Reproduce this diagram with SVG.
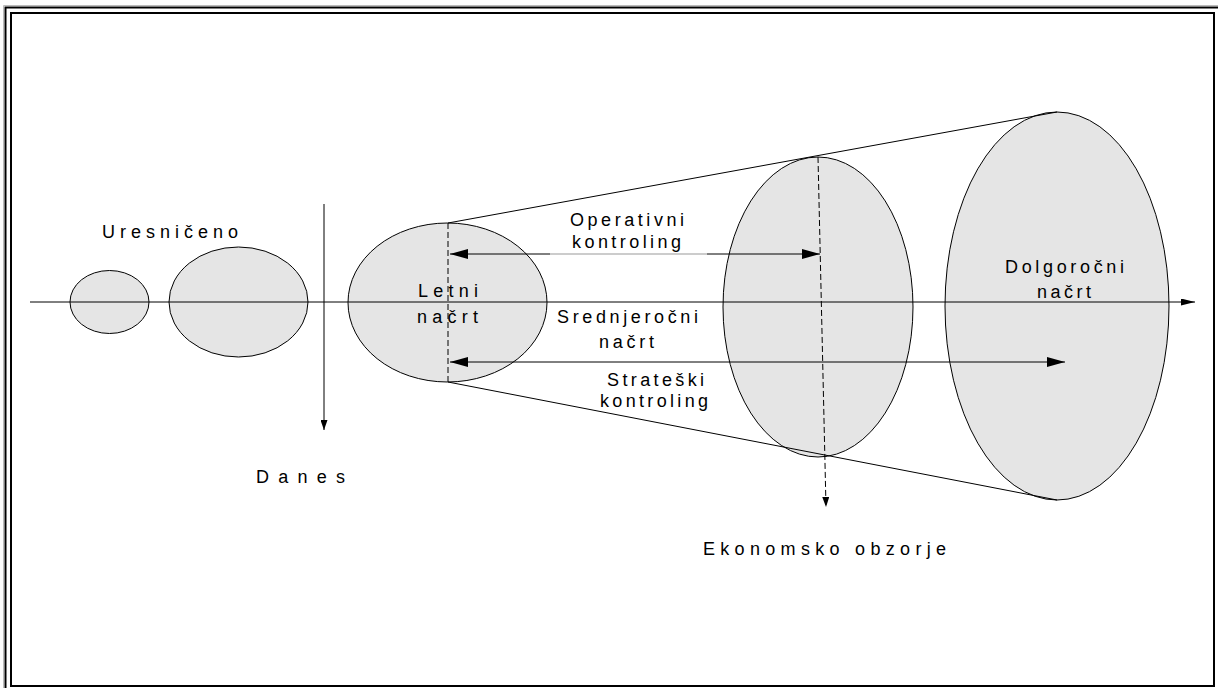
<svg xmlns="http://www.w3.org/2000/svg" width="1218" height="688" viewBox="0 0 1218 688">
  <style>
    .ell { fill: #e5e5e5; stroke: #000; stroke-width: 1; }
    .ln { stroke: #000; stroke-width: 1; fill: none; }
    .dash { stroke: #000; stroke-width: 1; fill: none; stroke-dasharray: 6 3; }
    .lbl { font-family: "Liberation Sans", Arial, sans-serif; font-size: 18px; fill: #000; }
  </style>
  <defs>
    <marker id="big" viewBox="0 0 18 10" refX="18" refY="5" markerWidth="18" markerHeight="10" markerUnits="userSpaceOnUse" orient="auto-start-reverse">
      <path d="M0,0 L18,5 L0,10 z" fill="#000"/>
    </marker>
    <marker id="small" viewBox="0 0 14 7" refX="14" refY="3.5" markerWidth="14" markerHeight="7" markerUnits="userSpaceOnUse" orient="auto">
      <path d="M0,0 L14,3.5 L0,7 z" fill="#000"/>
    </marker>
    <marker id="tiny" viewBox="0 0 10 7" refX="10" refY="3.5" markerWidth="10" markerHeight="7" markerUnits="userSpaceOnUse" orient="auto">
      <path d="M0,0 L10,3.5 L0,7 z" fill="#000"/>
    </marker>
  </defs>
  <rect width="1218" height="688" fill="#fff"/>
  <g id="frame">
    <path d="M3.5,688 V5.5 H1218" fill="none" stroke="#bbb" stroke-width="1"/>
    <path d="M5.5,688 V7.5 H1218" fill="none" stroke="#000" stroke-width="2"/>
    <rect x="11" y="13" width="1203" height="673" fill="none" stroke="#000" stroke-width="2"/>
  </g>
  <g id="past1"><ellipse class="ell" cx="109.5" cy="302" rx="39.5" ry="31.5"/></g>
  <g id="past2"><ellipse class="ell" cx="238.5" cy="302" rx="69.5" ry="55"/></g>
  <g id="annual"><ellipse class="ell" cx="447.5" cy="302.5" rx="99.5" ry="79.5"/></g>
  <g id="midterm"><ellipse class="ell" cx="818" cy="307" rx="95" ry="150"/></g>
  <g id="longterm"><ellipse class="ell" cx="1057" cy="306" rx="112" ry="194"/></g>
  <g id="connectors">
    <line class="ln" x1="448" y1="223" x2="1057" y2="112"/>
    <line class="ln" x1="448" y1="382" x2="1057" y2="500"/>
    <line class="ln" x1="30" y1="302" x2="1195" y2="302" marker-end="url(#small)"/>
    <line class="ln" x1="324" y1="204" x2="324" y2="430" marker-end="url(#tiny)"/>
    <line class="dash" x1="448" y1="223" x2="448" y2="382"/>
    <line class="dash" x1="818" y1="157" x2="826" y2="507" marker-end="url(#tiny)"/>
    <line class="ln" x1="550" y1="254" x2="450" y2="254" marker-end="url(#big)"/>
    <line x1="550" y1="254" x2="707" y2="254" stroke="#999" stroke-width="1"/>
    <line class="ln" x1="707" y1="254" x2="820" y2="254" marker-end="url(#big)"/>
    <line class="ln" x1="450" y1="362" x2="1065" y2="362" marker-start="url(#big)" marker-end="url(#big)"/>
  </g>
  <g id="labels">
    <text class="lbl" x="102" y="238" textLength="136" lengthAdjust="spacing">Uresničeno</text>
    <text class="lbl" x="256" y="483" textLength="89" lengthAdjust="spacing">Danes</text>
    <text class="lbl" x="418" y="297" textLength="60" lengthAdjust="spacing">Letni</text>
    <text class="lbl" x="417" y="323" textLength="61" lengthAdjust="spacing">načrt</text>
    <text class="lbl" x="570" y="226" textLength="114" lengthAdjust="spacing">Operativni</text>
    <text class="lbl" x="572" y="248" textLength="109" lengthAdjust="spacing">kontroling</text>
    <text class="lbl" x="557" y="323" textLength="141" lengthAdjust="spacing">Srednjeročni</text>
    <text class="lbl" x="599" y="348" textLength="55" lengthAdjust="spacing">načrt</text>
    <text class="lbl" x="607" y="386" textLength="97" lengthAdjust="spacing">Strateški</text>
    <text class="lbl" x="600" y="407" textLength="108" lengthAdjust="spacing">kontroling</text>
    <text class="lbl" x="1005" y="273" textLength="119" lengthAdjust="spacing">Dolgoročni</text>
    <text class="lbl" x="1037" y="298" textLength="54" lengthAdjust="spacing">načrt</text>
    <text class="lbl" x="703" y="555" textLength="243" lengthAdjust="spacing">Ekonomsko obzorje</text>
  </g>
</svg>
